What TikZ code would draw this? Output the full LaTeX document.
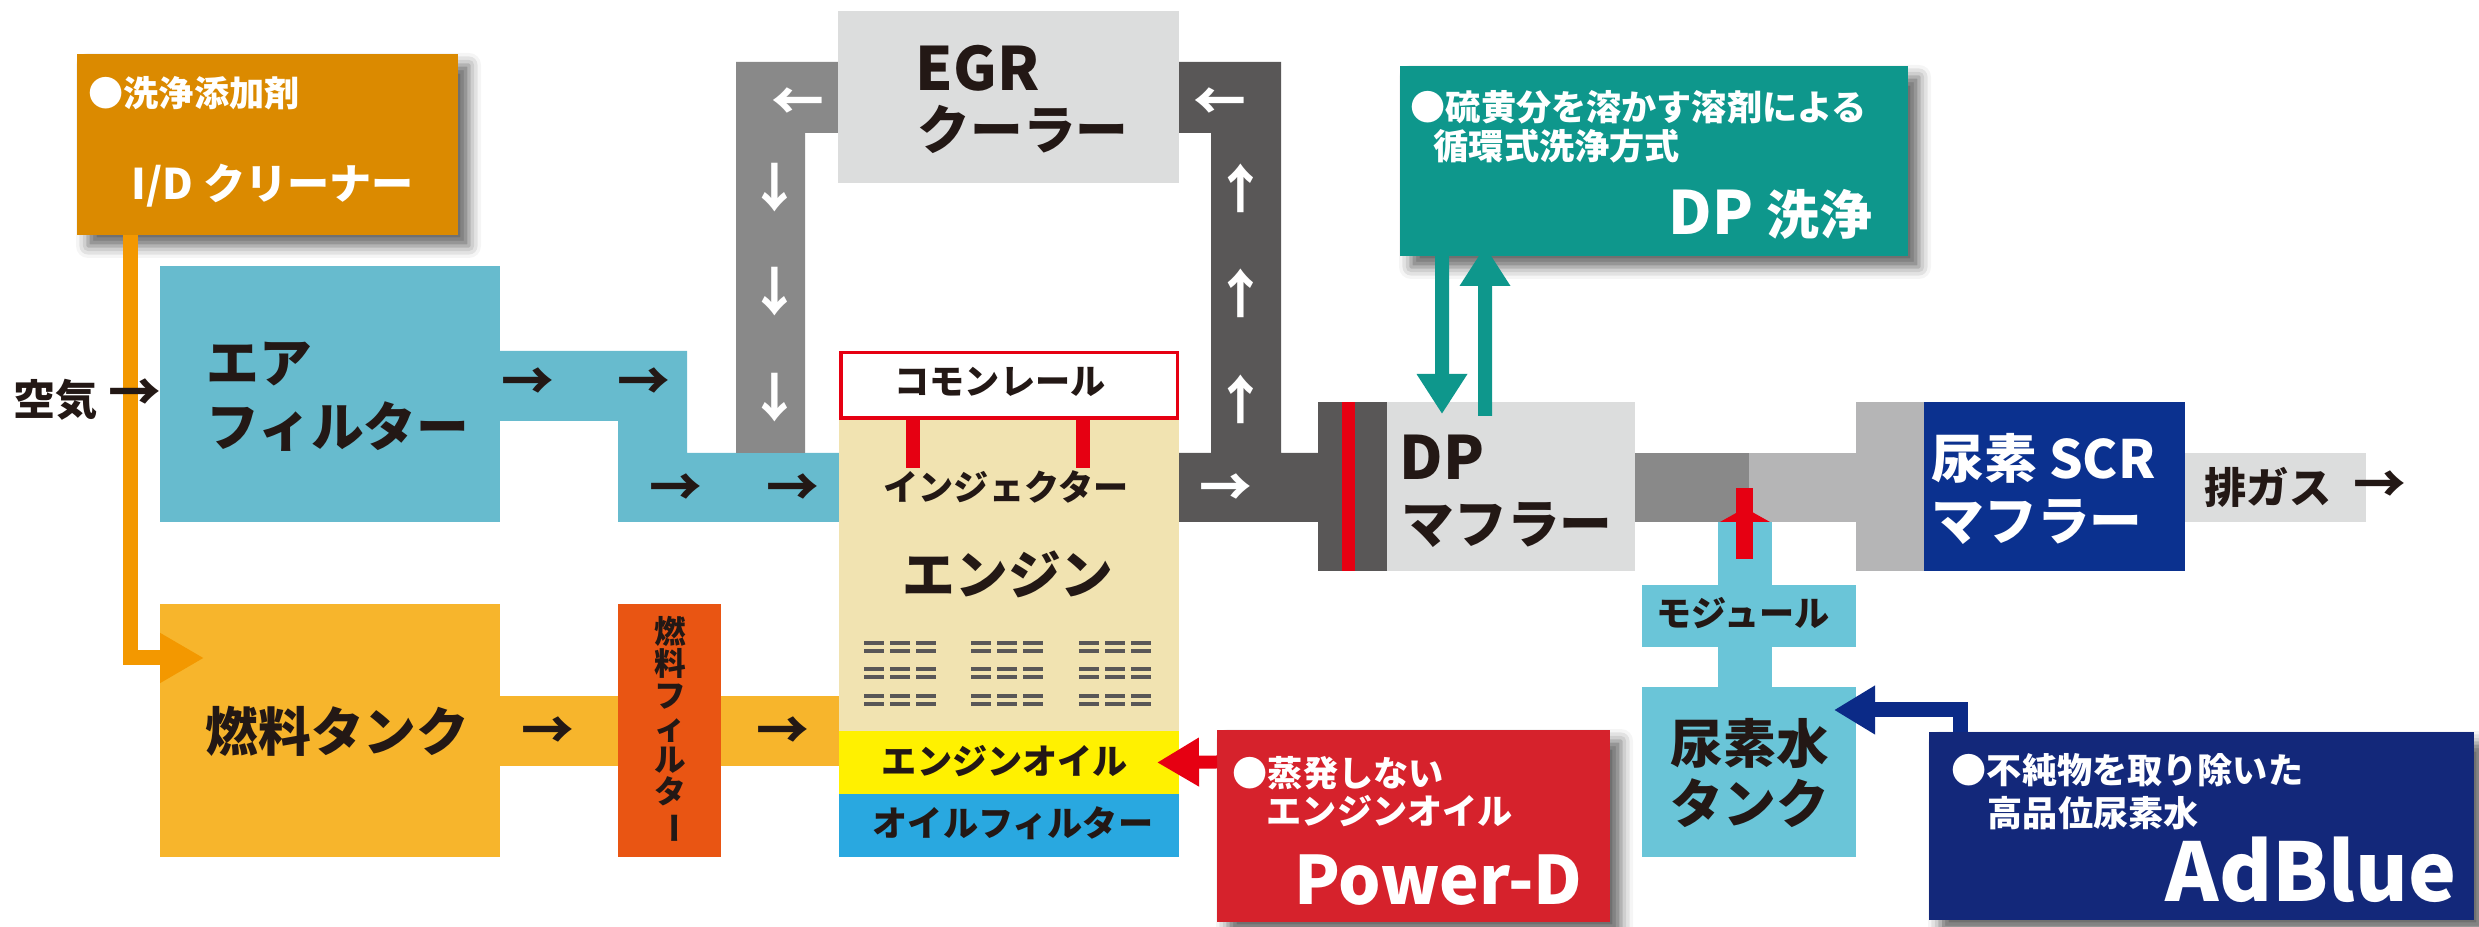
\documentclass[tikz,border=0pt]{standalone}
\usepackage{fontspec}
\setmainfont{Noto Sans CJK JP}[BoldFont={Noto Sans CJK JP Black}]
\usepackage{graphicx}
\usetikzlibrary{arrows.meta,shadows.blur}

% Colores
\definecolor{textoosc}{HTML}{231815}
\definecolor{naranjaid}{HTML}{DB8A00}
\definecolor{naranjalinea}{HTML}{F39800}
\definecolor{celeste}{HTML}{67BBCE}
\definecolor{grisclaro}{HTML}{DCDDDD}
\definecolor{grismedio}{HTML}{898989}
\definecolor{grisoscuro}{HTML}{595757}
\definecolor{grisscr}{HTML}{B5B5B6}
\definecolor{rojo}{HTML}{E60012}
\definecolor{beigemotor}{HTML}{F1E3B1}
\definecolor{amarillo}{HTML}{FFF100}
\definecolor{azulaceite}{HTML}{29A8E0}
\definecolor{naranjacomb}{HTML}{F7B52C}
\definecolor{naranjafiltro}{HTML}{E95513}
\definecolor{verdeazul}{HTML}{0E978C}
\definecolor{azulscr}{HTML}{0B318F}
\definecolor{celesteurea}{HTML}{6AC5D8}
\definecolor{rojopd}{HTML}{D6222C}
\definecolor{azuladb}{HTML}{13287A}
\definecolor{azulflecha}{HTML}{0B2A87}

\begin{document}
\begin{tikzpicture}[x=0.1mm, y=-0.1mm,
    caja/.style={inner sep=0pt, outer sep=0pt, draw=none},
    sombra/.style={blur shadow={shadow xshift=1.1mm, shadow yshift=-1.1mm, shadow blur radius=1.2mm, shadow opacity=60}},
    grande/.style={font=\fontsize{15}{16}\selectfont\bfseries, text=textoosc, inner sep=0pt},
    latina/.style={font=\fontsize{17}{18}\selectfont\bfseries, text=textoosc, inner sep=0pt},
    mediano/.style={font=\fontsize{12}{13}\selectfont\bfseries, text=textoosc, inner sep=0pt},
    chico/.style={font=\fontsize{10}{11}\selectfont\bfseries, text=textoosc, inner sep=0pt},
    flecha/.style={font=\fontsize{15}{16}\selectfont\bfseries, text=textoosc, inner sep=0pt},
    flechablanca/.style={flecha, text=white},
    vertical/.style={font=\fontsize{9}{9.1}\selectfont\bfseries, text=textoosc, inner sep=0pt, align=center},
    flechanaranja/.style={draw=naranjalinea, line width=1.5mm, -{Triangle[length=4.4mm, width=4.7mm]}},
    flechaverde/.style={draw=verdeazul, line width=1.4mm, -{Triangle[length=4mm, width=4.8mm]}},
    flecharoja/.style={draw=rojo, line width=1.3mm, -{Triangle[length=4.2mm, width=4.6mm]}},
    flechaazul/.style={draw=azulflecha, line width=1.5mm, -{Triangle[length=4.1mm, width=4.6mm]}}
  ]

  \useasboundingbox (0,0) rectangle (2479,927);

  % Conductos de aire y combustible
  \fill[celeste] (500,351) -- (687,351) -- (687,453) -- (839,453) -- (839,522)
    -- (618,522) -- (618,421) -- (500,421) -- cycle;
  \fill[naranjacomb] (500,696) rectangle (839,766);

  % Tubos EGR
  \fill[grismedio] (736,62) -- (838,62) -- (838,133) -- (805,133) -- (805,453) -- (736,453) -- cycle;
  \fill[grisoscuro] (1179,62) -- (1281,62) -- (1281,453) -- (1318,453) -- (1318,522)
    -- (1179,522) -- (1179,453) -- (1211,453) -- (1211,133) -- (1179,133) -- cycle;

  % Tubo entre silenciadores y tubos de urea
  \fill[grismedio] (1635,453) rectangle (1749,522);
  \fill[grisscr] (1749,453) rectangle (1856,522);
  \fill[celesteurea] (1718,522) rectangle (1772,585);
  \fill[celesteurea] (1718,647) rectangle (1772,687);

  % Bloques
  \node[caja, fill=naranjaid, sombra, minimum width=38.1mm, minimum height=18.1mm] (idlimp) at (267.5,144.5) {};
  \node[caja, fill=celeste, minimum width=34mm, minimum height=25.6mm] (filtaire) at (330,394) {};
  \node[caja, fill=naranjacomb, minimum width=34mm, minimum height=25.3mm] (tanque) at (330,730.5) {};
  \node[caja, fill=naranjafiltro, minimum width=10.3mm, minimum height=25.3mm] (filtcomb) at (669.5,730.5) {};
  \node[caja, fill=grisclaro, minimum width=34.1mm, minimum height=17.2mm] (egr) at (1008.5,97) {};
  \node[caja, fill=white, draw=rojo, line width=0.35mm, minimum width=33.65mm, minimum height=6.55mm] (riel) at (1009,385.5) {};
  \node[caja, fill=beigemotor, minimum width=34mm, minimum height=31.1mm] (motor) at (1009,575.5) {};
  \node[caja, fill=amarillo, minimum width=34mm, minimum height=6.3mm] (aceite) at (1009,762.5) {};
  \node[caja, fill=azulaceite, minimum width=34mm, minimum height=6.3mm] (filtaceite) at (1009,825.5) {};

  % Inyectores
  \foreach \x in {913,1083}
    \fill[rojo] (\x-7,420) rectangle (\x+7,468);

  % Rejilla del motor
  \foreach \fila in {647,673,700} {
    \foreach \grupo in {864,971,1079} {
      \foreach \k in {0,1,2} {
        \fill[grisoscuro] (\grupo+\k*26,\fila-6) rectangle ++(20,4);
        \fill[grisoscuro] (\grupo+\k*26,\fila+2) rectangle ++(20,4);
      }
    }
  }

  % Silenciadores
  \node[caja, fill=grisoscuro, minimum width=6.9mm, minimum height=16.9mm] (dpbrida) at (1352.5,486.5) {};
  \fill[rojo] (1342,402) rectangle (1355,571);
  \node[caja, fill=grisclaro, minimum width=24.8mm, minimum height=16.9mm] (dpmof) at (1511,486.5) {};
  \node[caja, fill=grisscr, minimum width=6.8mm, minimum height=16.9mm] (scrbrida) at (1890,486.5) {};
  \node[caja, fill=azulscr, minimum width=26.1mm, minimum height=16.9mm] (scr) at (2054.5,486.5) {};
  \node[caja, fill=grisclaro, minimum width=18.1mm, minimum height=6.9mm] (escape) at (2275.5,487.5) {};

  % Urea
  \node[caja, fill=celesteurea, minimum width=21.4mm, minimum height=6.2mm] (modulo) at (1749,616) {};
  \node[caja, fill=celesteurea, minimum width=21.4mm, minimum height=17mm] (urea) at (1749,772) {};
  \fill[rojo] (1736,488) rectangle (1753,559);
  \fill[rojo] (1720,522) -- (1770,522) -- (1745,508) -- cycle;

  % Productos
  \node[caja, fill=verdeazul, sombra, minimum width=50.8mm, minimum height=19mm] (dplav) at (1654,161) {};
  \node[caja, fill=rojopd, sombra, minimum width=39.3mm, minimum height=19.2mm] (powerd) at (1413.5,826) {};
  \node[caja, fill=azuladb, sombra, minimum width=54.5mm, minimum height=18.8mm] (adblue) at (2201.5,826) {};

  % Flechas de conexion
  \draw[flechanaranja] ([xshift=5.3mm]idlimp.south west) |- ([xshift=4.4mm,yshift=7.25mm]tanque.west);
  \draw[flechaverde] ([xshift=4.2mm]dplav.south west) -- ([xshift=5.5mm,yshift=-1.2mm]dpmof.north west);
  \draw[flechaverde] ([xshift=9.8mm,yshift=-1.4mm]dpmof.north west) -- ([xshift=8.5mm,yshift=1mm]dplav.south west);
  \draw[flecharoja] ([yshift=-3.2mm]powerd.north west) -- ([xshift=-2.2mm]aceite.east);
  \draw[flechaazul] ([xshift=3.1mm]adblue.north west) |- ([xshift=-2.2mm,yshift=6.2mm]urea.east);

  % Flechas de flujo
  \foreach \y [count=\i] in {188,292,398}
    \node[flechablanca] (baja\i) at (775,\y) {↓};
  \foreach \y [count=\i] in {188,293,399}
    \node[flechablanca] (sube\i) at (1241,\y) {↑};
  \node[flechablanca] (izq1) at (798,104) {←};
  \node[flechablanca] (izq2) at (1220,104) {←};
  \node[flechablanca] (der0) at (1226,490) {→};
  \foreach \x/\y [count=\i] in {528/384, 644/384, 676/490, 793/490, 548/733, 783/733}
    \node[flecha] (der\i) at (\x,\y) {→};
  \node[flecha] (faire) at (135,395) {→};
  \node[flecha] (fescape) at (2380,487) {→};

  % Textos
  \node[chico, text=white, anchor=west] (tid1) at (88,93) {●洗浄添加剤};
  \node[mediano, text=white, anchor=west] (tid2) at (131,186) {I/D クリーナー};
  \node[mediano, anchor=west] (taire0) at (13,400) {空気};
  \node[grande, anchor=west] (taire1) at (206,364) {エア};
  \node[grande, anchor=west] (taire2) at (206,427) {フィルター};
  \node[latina, anchor=west] (tegr1) at (915,68) {EGR};
  \node[grande, anchor=west] (tegr2) at (917,129) {クーラー};
  \node[chico] (triel) at (1000,382) {コモンレール};
  \node[chico] (tiny) at (1006,487) {インジェクター};
  \node[grande] (tmotor) at (1008,574) {エンジン};
  \node[chico] (taceite) at (1005,761) {エンジンオイル};
  \node[chico] (tfiltaceite) at (1013,823) {オイルフィルター};
  \node[grande, anchor=west] (ttanque) at (205,731) {燃料タンク};
  \node[vertical] (tfiltcomb) at (670,730) {燃\\料\\フ\\ィ\\ル\\タ\\\rotatebox[origin=c]{-90}{ー}};
  \node[chico, text=white, anchor=west] (tlav1) at (1410,107) {●硫黄分を溶かす溶剤による};
  \node[chico, text=white, anchor=west] (tlav2) at (1433,146) {循環式洗浄方式};
  \node[grande, text=white, anchor=east] (tlav3) at (1873,214) {\fontsize{17}{18}\selectfont DP \fontsize{15}{16}\selectfont 洗浄};
  \node[latina, anchor=west] (tmof1) at (1399,457) {DP};
  \node[grande, anchor=west] (tmof2) at (1401,525) {マフラー};
  \node[grande, text=white, anchor=west] (tscr1) at (1931,458) {尿素 SCR};
  \node[grande, text=white, anchor=west] (tscr2) at (1931,522) {マフラー};
  \node[mediano, anchor=west] (tescape) at (2204,487) {排ガス};
  \node[chico] (tmodulo) at (1743,613) {モジュール};
  \node[grande] (turea1) at (1750,743) {尿素水};
  \node[grande] (turea2) at (1750,803) {タンク};
  \node[chico, text=white, anchor=west] (tpd1) at (1232,773) {●蒸発しない};
  \node[chico, text=white, anchor=west] (tpd2) at (1266,811) {エンジンオイル};
  \node[font=\fontsize{19}{20}\selectfont\bfseries, text=white, inner sep=0pt, anchor=east] (tpd3) at (1583,880) {Power-D};
  \node[chico, text=white, anchor=west] (tadb1) at (1951,770) {●不純物を取り除いた};
  \node[chico, text=white, anchor=west] (tadb2) at (1987,813) {高品位尿素水};
  \node[font=\fontsize{23}{24}\selectfont\bfseries, text=white, inner sep=0pt, anchor=east] (tadb3) at (2457,870) {AdBlue};

\end{tikzpicture}
\end{document}
